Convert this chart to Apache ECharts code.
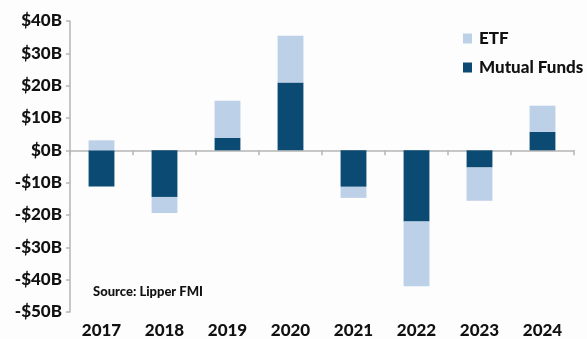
<!DOCTYPE html>
<html>
<head>
<meta charset="utf-8">
<script src="https://cdn.jsdelivr.net/npm/echarts@6/dist/echarts.min.js"></script>
<style>
html,body{margin:0;padding:0;background:#fdfdfd;}
#chart{width:587px;height:339px;}
</style>
</head>
<body>
<div id="chart"></div>
<script>
var years = ['2017','2018','2019','2020','2021','2022','2023','2024'];
var mutualFunds = [-11.2, -14.4, 3.9, 21, -11.3, -22, -5.3, 5.7];
var etf = [3.1, -5, 11.4, 14.4, -3.4, -20, -10.3, 8.1];
var yTicks = [-50, -40, -30, -20, -10, 0, 10, 20, 30, 40];
var yTickLabels = ['-$50B','-$40B','-$30B','-$20B','-$10B','$0B','$10B','$20B','$30B','$40B'];
var sourceText = 'Source: Lipper FMI';

var FONT = 'Lato';
var chart = echarts.init(document.getElementById('chart'));
chart.setOption({
  backgroundColor: '#fdfdfd',
  animation: false,
  grid: {left: 70, right: 13, top: 21, bottom: 25.5},
  legend: {
    orient: 'vertical',
    left: 458,
    top: 25,
    itemWidth: 9,
    itemHeight: 10,
    itemGap: 12,
    icon: 'rect',
    data: ['ETF', 'Mutual Funds'],
    textStyle: {fontFamily: FONT, fontWeight: 900, fontSize: 17, color: '#111', padding: [0,0,0,2]}
  },
  xAxis: [{
    type: 'category',
    data: years,
    axisLine: {onZero: true, lineStyle: {color: '#b5b5b5', width: 1.5}},
    axisTick: {show: true, length: 5, lineStyle: {color: '#b5b5b5', width: 1.5}},
    axisLabel: {show: false}
  }, {
    type: 'category',
    data: years,
    position: 'bottom',
    axisLine: {show: false},
    axisTick: {show: false},
    axisLabel: {show: true, margin: 10, fontFamily: FONT, fontWeight: 900, fontSize: 17, color: '#111'}
  }],
  yAxis: {
    type: 'value',
    min: -50, max: 40, interval: 10,
    splitLine: {show: false},
    axisLine: {show: true, lineStyle: {color: '#b5b5b5', width: 1.5}},
    axisTick: {show: true, length: 4, lineStyle: {color: '#b5b5b5', width: 1.5}},
    axisLabel: {
      margin: 8,
      fontFamily: FONT, fontWeight: 900, fontSize: 17, color: '#111',
      formatter: function (v) { var i = yTicks.indexOf(v); return i >= 0 ? yTickLabels[i] : ''; }
    }
  },
  graphic: [{
    type: 'text',
    left: 93, top: 285,
    style: {text: sourceText, font: '900 13px Lato', fill: '#111'}
  }],
  series: [{
    name: 'Mutual Funds',
    type: 'bar',
    stack: 'flows',
    data: mutualFunds,
    barWidth: '41%',
    itemStyle: {color: '#0b4a72'}
  }, {
    name: 'ETF',
    type: 'bar',
    stack: 'flows',
    data: etf,
    barWidth: '41%',
    itemStyle: {color: '#bcd0e8'}
  }]
});
</script>
</body>
</html>
